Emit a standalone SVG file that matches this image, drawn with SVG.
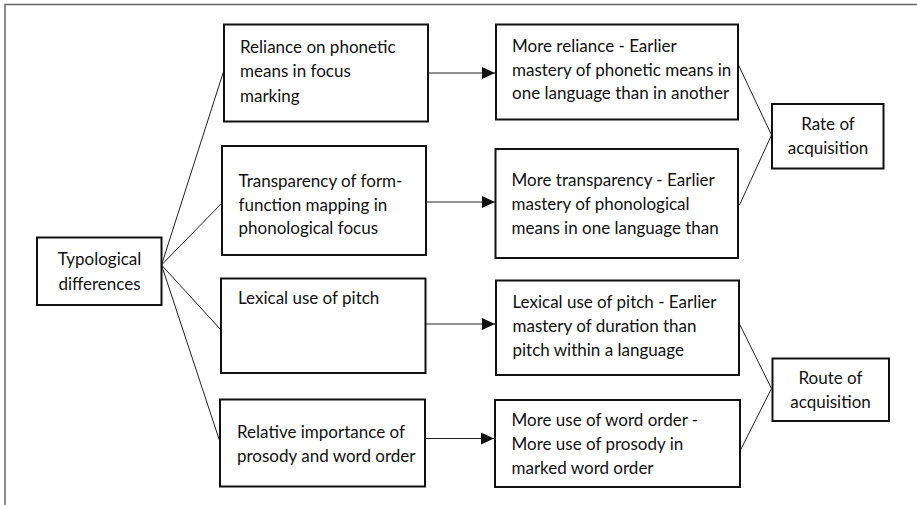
<svg xmlns="http://www.w3.org/2000/svg" width="917" height="505" viewBox="0 0 917 505">
<defs>
<style>
.frame{fill:none;stroke:#666;stroke-width:1.5}
.box{fill:#fff;stroke:#111;stroke-width:2}
.t{font-family:Lato,"Liberation Sans",sans-serif;font-size:17px;fill:#111}
.c{text-anchor:middle}
.ln{fill:none;stroke:#222;stroke-width:1}
</style>
<marker id="ah" markerWidth="13" markerHeight="12" refX="13" refY="6" orient="auto" markerUnits="userSpaceOnUse">
<path d="M0,0 L13,6 L0,12 Z" fill="#111"/>
</marker>
</defs>
<rect width="917" height="505" fill="#fff"/>
<path class="frame" d="M917,4.5 H5 V505"/>
<g id="connectors">
<line class="ln" x1="161.5" y1="265" x2="224" y2="70"/>
<line class="ln" x1="161.5" y1="265" x2="222" y2="203"/>
<line class="ln" x1="161.5" y1="265" x2="221" y2="330"/>
<line class="ln" x1="161.5" y1="265" x2="220" y2="442"/>
<line class="ln" x1="428" y1="73" x2="495" y2="73" marker-end="url(#ah)"/>
<line class="ln" x1="426" y1="202" x2="495" y2="202" marker-end="url(#ah)"/>
<line class="ln" x1="426" y1="324" x2="495" y2="324" marker-end="url(#ah)"/>
<line class="ln" x1="425" y1="438.5" x2="494" y2="438.5" marker-end="url(#ah)"/>
<line class="ln" x1="738.5" y1="65" x2="771.5" y2="135"/>
<line class="ln" x1="739.5" y1="205" x2="771.5" y2="135"/>
<line class="ln" x1="739.5" y1="324" x2="771.5" y2="388.5"/>
<line class="ln" x1="740.5" y1="450" x2="771.5" y2="388.5"/>
</g>
<g id="typological">
<rect class="box" x="37" y="237.5" width="124.5" height="67.5"/>
<text class="t c" x="99.5" y="265">Typological</text>
<text class="t c" x="99.5" y="290">differences</text>
</g>
<g id="reliance">
<rect class="box" x="224" y="24.5" width="204" height="97"/>
<text class="t" x="240" y="52.5">Reliance on phonetic</text>
<text class="t" x="240" y="77">means in focus</text>
<text class="t" x="240" y="101.5">marking</text>
</g>
<g id="transparency">
<rect class="box" x="222" y="146" width="204" height="109"/>
<text class="t" x="238.5" y="187">Transparency of form-</text>
<text class="t" x="238.5" y="210.5">function mapping in</text>
<text class="t" x="238.5" y="234">phonological focus</text>
</g>
<g id="lexical">
<rect class="box" x="221" y="278.5" width="204.5" height="94.5"/>
<text class="t" x="238" y="304">Lexical use of pitch</text>
</g>
<g id="relative">
<rect class="box" x="220" y="399.5" width="205" height="87"/>
<text class="t" x="237" y="437.5">Relative importance of</text>
<text class="t" x="237" y="461.5">prosody and word order</text>
</g>
<g id="more-reliance">
<rect class="box" x="496" y="24.5" width="242" height="95"/>
<text class="t" x="512" y="52">More reliance - Earlier</text>
<text class="t" x="512" y="75.5">mastery of phonetic means in</text>
<text class="t" x="512" y="99">one language than in another</text>
</g>
<g id="more-transparency">
<rect class="box" x="495.5" y="149" width="242.5" height="109"/>
<text class="t" x="511.5" y="186">More transparency - Earlier</text>
<text class="t" x="511.5" y="210">mastery of phonological</text>
<text class="t" x="511.5" y="234">means in one language than</text>
</g>
<g id="lexical-pitch">
<rect class="box" x="496" y="280.5" width="243" height="94.5"/>
<text class="t" x="512.5" y="308">Lexical use of pitch - Earlier</text>
<text class="t" x="512.5" y="331.5">mastery of duration than</text>
<text class="t" x="512.5" y="355.5">pitch within a language</text>
</g>
<g id="word-order">
<rect class="box" x="495" y="400" width="245" height="87"/>
<text class="t" x="511.5" y="425.5">More use of word order -</text>
<text class="t" x="511.5" y="449.5">More use of prosody in</text>
<text class="t" x="511.5" y="473.5">marked word order</text>
</g>
<g id="rate">
<rect class="box" x="772" y="104" width="111.5" height="64.5"/>
<text class="t c" x="828" y="129.5">Rate of</text>
<text class="t c" x="828" y="153.5">acquisition</text>
</g>
<g id="route">
<rect class="box" x="772.5" y="358.5" width="116.5" height="62.5"/>
<text class="t c" x="830.5" y="383.5">Route of</text>
<text class="t c" x="830.5" y="407.5">acquisition</text>
</g>
</svg>
